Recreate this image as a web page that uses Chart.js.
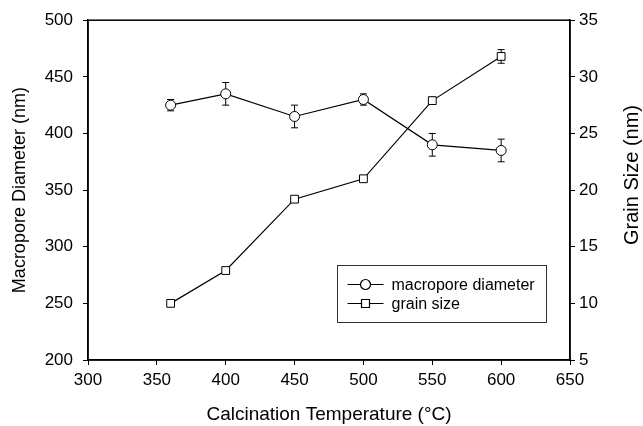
<!DOCTYPE html>
<html>
<head>
<meta charset="utf-8">
<script src="https://cdn.jsdelivr.net/npm/chart.js@4"></script>
<style>
  html, body { margin: 0; padding: 0; background: #fff; }
  #wrap { width: 643px; height: 426px; }
</style>
</head>
<body>
<div id="wrap"><canvas id="chart" width="643" height="426"></canvas></div>
<script>
// data
const temps = [360, 400, 450, 500, 550, 600];
const macroDiameter = [425, 435, 415, 430, 390, 385];
const macroErr = [5, 10, 10, 5, 10, 10];
const grainSize = [10, 12.9, 19.2, 21, 27.9, 31.8];
const grainErr = [0, 0, 0, 0, 0.3, 0.6];
const xTicks = [300, 350, 400, 450, 500, 550, 600, 650];
const leftTicks = [200, 250, 300, 350, 400, 450, 500];
const rightTicks = [5, 10, 15, 20, 25, 30, 35];
const seriesNames = ["macropore diameter", "grain size"];
const rightTitle = "Grain Size (nm)";

const FONT = "'Liberation Sans', Arial, sans-serif";

function toPoints(xs, ys) {
    return xs.map((x, i) => ({ x: x, y: ys[i] }));
}

// error bars, drawn under the markers
const errorBars = {
    id: "errorBars",
    beforeDatasetsDraw(chart) {
        const ctx = chart.ctx;
        const xScale = chart.scales.x;
        ctx.save();
        ctx.strokeStyle = "#000";
        ctx.lineWidth = 1;
        chart.data.datasets.forEach((ds) => {
            const yScale = chart.scales[ds.yAxisID];
            ds.data.forEach((p, i) => {
                const e = ds.errors[i];
                if (!e) return;
                const px = xScale.getPixelForValue(p.x);
                const top = yScale.getPixelForValue(p.y + e);
                const bot = yScale.getPixelForValue(p.y - e);
                ctx.beginPath();
                ctx.moveTo(px, top);
                ctx.lineTo(px, bot);
                ctx.moveTo(px - 3.5, top);
                ctx.lineTo(px + 3.5, top);
                ctx.moveTo(px - 3.5, bot);
                ctx.lineTo(px + 3.5, bot);
                ctx.stroke();
            });
        });
        ctx.restore();
    }
};

// frame round the plot, right axis title and the boxed legend
const frameAndLegend = {
    id: "frameAndLegend",
    afterDraw(chart) {
        const ctx = chart.ctx;
        const a = chart.chartArea;
        ctx.save();
        ctx.strokeStyle = "#000";
        ctx.lineWidth = 1.5;
        ctx.strokeRect(a.left, a.top, a.right - a.left, a.bottom - a.top);

        // right title reads upwards like the left one
        ctx.save();
        ctx.translate(632, 175);
        ctx.rotate(-Math.PI / 2);
        ctx.fillStyle = "#000";
        ctx.font = "20px " + FONT;
        ctx.textAlign = "center";
        ctx.textBaseline = "middle";
        ctx.fillText(rightTitle, 0, 0);
        ctx.restore();

        // legend box
        const bx = 337.5, by = 265.5, bw = 209, bh = 57;
        ctx.fillStyle = "#fff";
        ctx.fillRect(bx, by, bw, bh);
        ctx.lineWidth = 1;
        ctx.strokeStyle = "#333";
        ctx.strokeRect(bx, by, bw, bh);

        ctx.font = "16px " + FONT;
        ctx.textBaseline = "middle";
        const rows = [by + 19, by + 38];
        chart.data.datasets.forEach((ds, i) => {
            const y = rows[i];
            ctx.strokeStyle = "#000";
            ctx.lineWidth = 1.2;
            ctx.beginPath();
            ctx.moveTo(bx + 10, y);
            ctx.lineTo(bx + 46, y);
            ctx.stroke();
            ctx.fillStyle = "#fff";
            ctx.beginPath();
            if (ds.pointStyle === "circle") {
                ctx.arc(bx + 28, y, 5, 0, Math.PI * 2);
            } else {
                ctx.rect(bx + 24, y - 4, 8, 8);
            }
            ctx.fill();
            ctx.stroke();
            ctx.fillStyle = "#000";
            ctx.fillText(seriesNames[i], bx + 54, y + 1);
        });
        ctx.restore();
    }
};

const tickFont = { family: FONT, size: 17 };

new Chart(document.getElementById("chart"), {
    type: "line",
    data: {
        datasets: [
            {
                label: seriesNames[0],
                data: toPoints(temps, macroDiameter),
                errors: macroErr,
                yAxisID: "y",
                borderColor: "#000",
                borderWidth: 1.2,
                pointStyle: "circle",
                pointRadius: 5,
                pointBackgroundColor: "#fff",
                pointBorderColor: "#000",
                pointBorderWidth: 1,
                tension: 0
            },
            {
                label: seriesNames[1],
                data: toPoints(temps, grainSize),
                errors: grainErr,
                yAxisID: "y2",
                borderColor: "#000",
                borderWidth: 1.2,
                pointStyle: "rect",
                pointRadius: 5.5,
                pointBackgroundColor: "#fff",
                pointBorderColor: "#000",
                pointBorderWidth: 1,
                tension: 0
            }
        ]
    },
    options: {
        responsive: false,
        animation: false,
        layout: { padding: { top: 20, left: 0, right: 0, bottom: 0 } },
        plugins: {
            legend: { display: false },
            tooltip: { enabled: false }
        },
        scales: {
            x: {
                type: "linear",
                min: 300,
                max: 650,
                afterBuildTicks: (s) => { s.ticks = xTicks.map(v => ({ value: v })); },
                afterFit: (s) => { s.height = 66; },
                grid: { drawOnChartArea: false, tickLength: 5, color: "#000" },
                border: { color: "#000", width: 1.5 },
                ticks: { color: "#000", font: tickFont, padding: 5 },
                title: { display: true, text: "Calcination Temperature (°C)", color: "#000", font: { family: FONT, size: 19 }, padding: { top: 4, bottom: 0 } }
            },
            y: {
                position: "left",
                min: 200,
                max: 500,
                afterBuildTicks: (s) => { s.ticks = leftTicks.map(v => ({ value: v })); },
                afterFit: (s) => { s.width = 88; },
                grid: { drawOnChartArea: false, tickLength: 5, color: "#000" },
                border: { color: "#000", width: 1.5 },
                ticks: { color: "#000", font: tickFont, padding: 10 },
                title: { display: true, text: "Macropore Diameter (nm)", color: "#000", font: { family: FONT, size: 18 }, padding: { top: 9, bottom: 0 } }
            },
            y2: {
                position: "right",
                min: 5,
                max: 35,
                afterBuildTicks: (s) => { s.ticks = rightTicks.map(v => ({ value: v })); },
                afterFit: (s) => { s.width = 73; },
                grid: { drawOnChartArea: false, tickLength: 5, color: "#000" },
                border: { color: "#000", width: 1.5 },
                ticks: { color: "#000", font: tickFont, padding: 4 },
                title: { display: false }
            }
        }
    },
    plugins: [errorBars, frameAndLegend]
});
</script>
</body>
</html>
